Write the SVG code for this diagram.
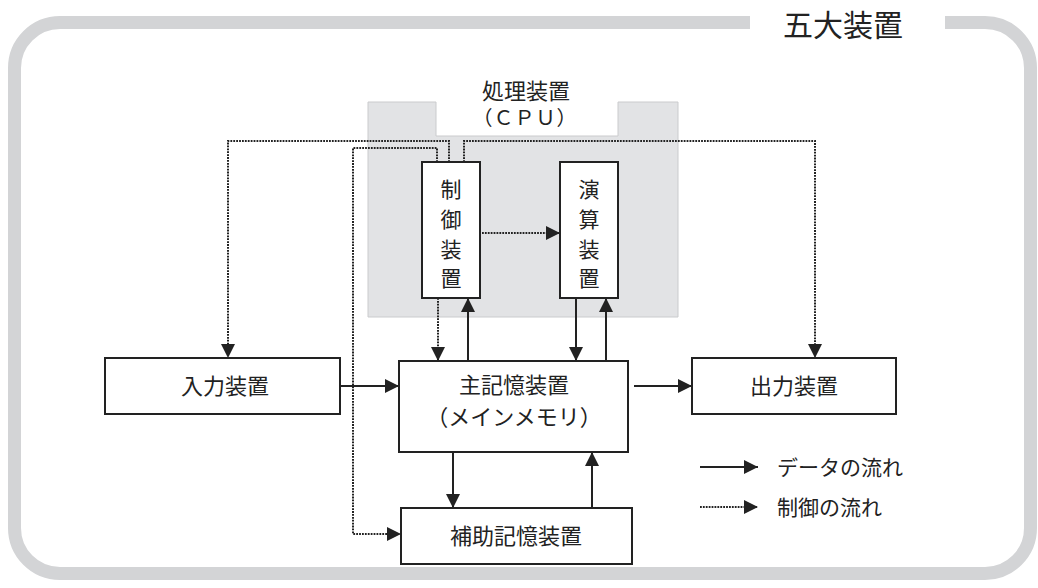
<svg xmlns="http://www.w3.org/2000/svg" width="1038" height="588" viewBox="0 0 1038 588">
<defs>
<style>
.box{fill:#fff;stroke:#222;stroke-width:2}
.t{font-family:"Noto Sans CJK JP","Noto Sans CJK SC",sans-serif;font-size:22px;fill:#222;text-anchor:middle}
.v{font-size:21px}
.solid{fill:none;stroke:#222;stroke-width:2}
.dot{fill:none;stroke:#222;stroke-width:2;stroke-dasharray:1.8 1.1}
</style>
<marker id="ah" viewBox="0 0 14 14" refX="14" refY="7" markerWidth="14" markerHeight="14" markerUnits="userSpaceOnUse" orient="auto">
<path d="M0,0 L14,7 L0,14 Z" fill="#222"/>
</marker>
</defs>
<rect width="1038" height="588" fill="#fff"/>
<g id="frame">
<path d="M750,22.5 H60 A45.5,45.5 0 0 0 14.5,68 V528 A45.5,45.5 0 0 0 60,573.5 H985 A45.5,45.5 0 0 0 1030.5,528 V68 A45.5,45.5 0 0 0 985,22.5 H945" fill="none" stroke="#d3d4d6" stroke-width="13"/>
<text x="843" y="36" class="t" style="font-size:30px">五大装置</text>
</g>
<g id="cpu">
<path d="M368,102 H436 V136 H618 V102 H678 V317 H368 Z" fill="#e2e3e5" stroke="#cacbcd" stroke-width="1"/>
<text x="526" y="99" class="t" style="font-size:22px">処理装置</text>
<text x="525" y="125" class="t" style="font-size:20px;letter-spacing:1px">（ＣＰＵ）</text>
</g>
<g id="connectors">
<path class="dot" d="M449,162 V141 H228 V358" marker-end="url(#ah)"/>
<path class="dot" d="M437,162 V148 H353 V534 H401" marker-end="url(#ah)"/>
<path class="dot" d="M464,162 V141 H815 V358" marker-end="url(#ah)"/>
<path class="dot" d="M482,233 H560" marker-end="url(#ah)"/>
<path class="dot" d="M438,298 V361" marker-end="url(#ah)"/>
<path class="solid" d="M468,361 V298" marker-end="url(#ah)"/>
<path class="solid" d="M576,298 V361" marker-end="url(#ah)"/>
<path class="solid" d="M606,361 V298" marker-end="url(#ah)"/>
<path class="solid" d="M340,386 H399" marker-end="url(#ah)"/>
<path class="solid" d="M634,386 H692" marker-end="url(#ah)"/>
<path class="solid" d="M453,452 V508" marker-end="url(#ah)"/>
<path class="solid" d="M592,508 V452" marker-end="url(#ah)"/>
</g>
<g id="control">
<rect class="box" x="422" y="162" width="58" height="136"/>
<text class="t v" x="451" y="197">制</text>
<text class="t v" x="451" y="227">御</text>
<text class="t v" x="451" y="257">装</text>
<text class="t v" x="451" y="286">置</text>
</g>
<g id="alu">
<rect class="box" x="560" y="162" width="58" height="136"/>
<text class="t v" x="589" y="197">演</text>
<text class="t v" x="589" y="227">算</text>
<text class="t v" x="589" y="257">装</text>
<text class="t v" x="589" y="286">置</text>
</g>
<g id="input">
<rect class="box" x="105" y="358" width="235" height="56"/>
<text class="t" x="225" y="394">入力装置</text>
</g>
<g id="main">
<rect class="box" x="399" y="361" width="229" height="91"/>
<text class="t" x="514" y="393">主記憶装置</text>
<text class="t" x="514" y="425">（メインメモリ）</text>
</g>
<g id="output">
<rect class="box" x="692" y="358" width="204" height="56"/>
<text class="t" x="794" y="394">出力装置</text>
</g>
<g id="aux">
<rect class="box" x="401" y="508" width="231" height="56"/>
<text class="t" x="516" y="544">補助記憶装置</text>
</g>
<g id="legend">
<path class="solid" d="M700,467 H758" marker-end="url(#ah)"/>
<path class="dot" d="M700,507 H758" marker-end="url(#ah)"/>
<text class="t" x="777" y="475" style="text-anchor:start;font-size:21px">データの流れ</text>
<text class="t" x="777" y="515" style="text-anchor:start;font-size:21px">制御の流れ</text>
</g>
</svg>
